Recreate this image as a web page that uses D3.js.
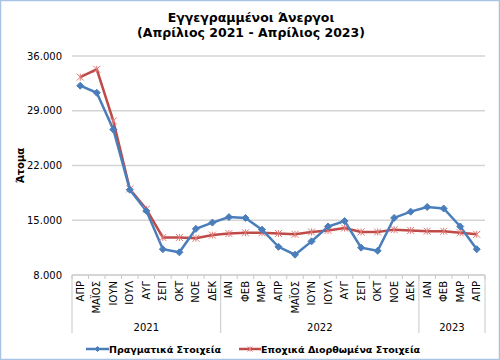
<!DOCTYPE html>
<html><head><meta charset="utf-8">
<script src="https://cdn.jsdelivr.net/npm/d3@7"></script>
<style>body{margin:0;background:#fff}svg{display:block}</style>
</head><body>
<script>
const months = ["ΑΠΡ","ΜΑΪΟΣ","ΙΟΥΝ","ΙΟΥΛ","ΑΥΓ","ΣΕΠ","ΟΚΤ","ΝΟΕ","ΔΕΚ","ΙΑΝ","ΦΕΒ","ΜΑΡ","ΑΠΡ","ΜΑΪΟΣ","ΙΟΥΝ","ΙΟΥΛ","ΑΥΓ","ΣΕΠ","ΟΚΤ","ΝΟΕ","ΔΕΚ","ΙΑΝ","ΦΕΒ","ΜΑΡ","ΑΠΡ"];
const years = [{label:"2021",count:9},{label:"2022",count:12},{label:"2023",count:4}];
const actual = [32200,31300,26600,18900,16200,11300,10900,13900,14700,15400,15300,13800,11600,10600,12300,14200,14900,11500,11100,15300,16100,16700,16500,14200,11300];
const adjusted = [33300,34300,27700,19000,16400,12800,12800,12700,13100,13300,13400,13400,13300,13200,13500,13700,14000,13500,13500,13800,13700,13600,13600,13400,13200];
const yTicks = [8000,15000,22000,29000,36000];
const seriesNames = ["Πραγματικά Στοιχεία","Εποχικά Διορθωμένα Στοιχεία"];
const titleLines = ["Εγγεγραμμένοι Άνεργοι","(Απρίλιος 2021 - Απρίλιος 2023)"];
const yTitle = "Άτομα";

const W=500,H=360;
const L=72,R=485,T=56,B=275;
const font="'DejaVu Sans', Verdana, sans-serif";
const svg=d3.select("body").append("svg").attr("width",W).attr("height",H).style("font-family",font);
svg.append("rect").attr("x",0.5).attr("y",0.5).attr("width",W-1).attr("height",H-1).attr("fill","#fff").attr("stroke","#a7c3e6").attr("stroke-width",1.5);

const idx=d3.range(months.length);
const x=d3.scaleBand().domain(idx).range([L,R]).padding(0);
const y=d3.scaleLinear().domain([8000,36000]).range([B,T]);

// title
svg.append("text").attr("x",251).attr("y",22).attr("text-anchor","middle").attr("font-size",12.5).attr("font-weight","bold").text(titleLines[0]);
svg.append("text").attr("x",251).attr("y",37).attr("text-anchor","middle").attr("font-size",12.5).attr("font-weight","bold").text(titleLines[1]);

// gridlines
svg.append("g").selectAll("line").data(yTicks.filter(d=>d>8000)).join("line")
 .attr("x1",L).attr("x2",R).attr("y1",d=>y(d)).attr("y2",d=>y(d)).attr("stroke","#d4d4d4").attr("stroke-width",1.5);

// y axis labels
const yAxis=d3.axisLeft(y).tickValues(yTicks).tickSize(0).tickPadding(10)
 .tickFormat(d=>d3.format(",")(d).replace(/,/g,"."));
const ya=svg.append("g").attr("transform",`translate(${L},0)`).call(yAxis);
ya.select(".domain").remove();
ya.selectAll("text").attr("font-size",10).attr("font-family",font).attr("fill","#000");

svg.append("text").attr("transform",`translate(24,${(T+B)/2}) rotate(-90)`).attr("text-anchor","middle")
 .attr("font-size",10).attr("font-weight","bold").text(yTitle);

// x axis
const ax=svg.append("g");
ax.append("line").attr("x1",L).attr("x2",R).attr("y1",B).attr("y2",B).attr("stroke","#c8c8c8").attr("stroke-width",1.5);
ax.selectAll("line.tk").data(d3.range(months.length+1)).join("line").attr("class","tk")
 .attr("x1",d=>L+d*x.bandwidth()).attr("x2",d=>L+d*x.bandwidth()).attr("y1",B).attr("y2",B+4).attr("stroke","#c8c8c8");
let cum=0; const bounds=[0];
years.forEach(g=>{cum+=g.count;bounds.push(cum);});
ax.selectAll("line.yb").data(bounds).join("line").attr("class","yb")
 .attr("x1",d=>L+d*x.bandwidth()).attr("x2",d=>L+d*x.bandwidth()).attr("y1",B).attr("y2",333).attr("stroke","#c8c8c8").attr("stroke-width",1);
ax.selectAll("text.m").data(idx).join("text").attr("class","m")
 .attr("transform",d=>`translate(${x(d)+x.bandwidth()/2+3.5},${B+6}) rotate(-90)`)
 .attr("text-anchor","end").attr("font-size",10).text(d=>months[d]);
ax.selectAll("text.yr").data(years).join("text").attr("class","yr")
 .attr("x",(d,i)=>L+(bounds[i]+bounds[i+1])/2*x.bandwidth()).attr("y",331).attr("text-anchor","middle").attr("font-size",10)
 .text(d=>d.label);

const cx=i=>x(i)+x.bandwidth()/2;
const line=d3.line().x((d,i)=>cx(i)).y(d=>y(d));
const blue="#4a7ebb", red="#be4b48";

svg.append("path").datum(adjusted).attr("d",line).attr("fill","none").attr("stroke",red).attr("stroke-width",2.5);
svg.append("path").datum(actual).attr("d",line).attr("fill","none").attr("stroke",blue).attr("stroke-width",2.5);

function star(g,px,py,s=3.5){
  g.append("path").attr("d",`M${px-s},${py-s}L${px+s},${py+s}M${px-s},${py+s}L${px+s},${py-s}M${px},${py-s}L${px},${py+s}`)
   .attr("stroke","#e07a78").attr("stroke-width",1).attr("fill","none");
}
function diamond(g,px,py,s=3.5){
  g.append("path").attr("d",`M${px},${py-s}L${px+s},${py}L${px},${py+s}L${px-s},${py}Z`).attr("fill",blue).attr("stroke",blue);
}
const mg=svg.append("g");
adjusted.forEach((v,i)=>star(mg,cx(i),y(v)));
actual.forEach((v,i)=>diamond(mg,cx(i),y(v)));

// legend
const lg=svg.append("g");
const ly=349;
lg.append("line").attr("x1",86).attr("x2",109).attr("y1",ly).attr("y2",ly).attr("stroke",blue).attr("stroke-width",2.5);
diamond(lg,97.5,ly,2.5);
lg.append("text").attr("x",109).attr("y",ly+3.5).attr("font-size",9.5).attr("font-weight","bold").text(seriesNames[0]);
lg.append("line").attr("x1",239).attr("x2",261).attr("y1",ly).attr("y2",ly).attr("stroke",red).attr("stroke-width",2.5);
star(lg,250,ly,2.5);
lg.append("text").attr("x",261).attr("y",ly+3.5).attr("font-size",9.5).attr("font-weight","bold").text(seriesNames[1]);
</script>
</body></html>
